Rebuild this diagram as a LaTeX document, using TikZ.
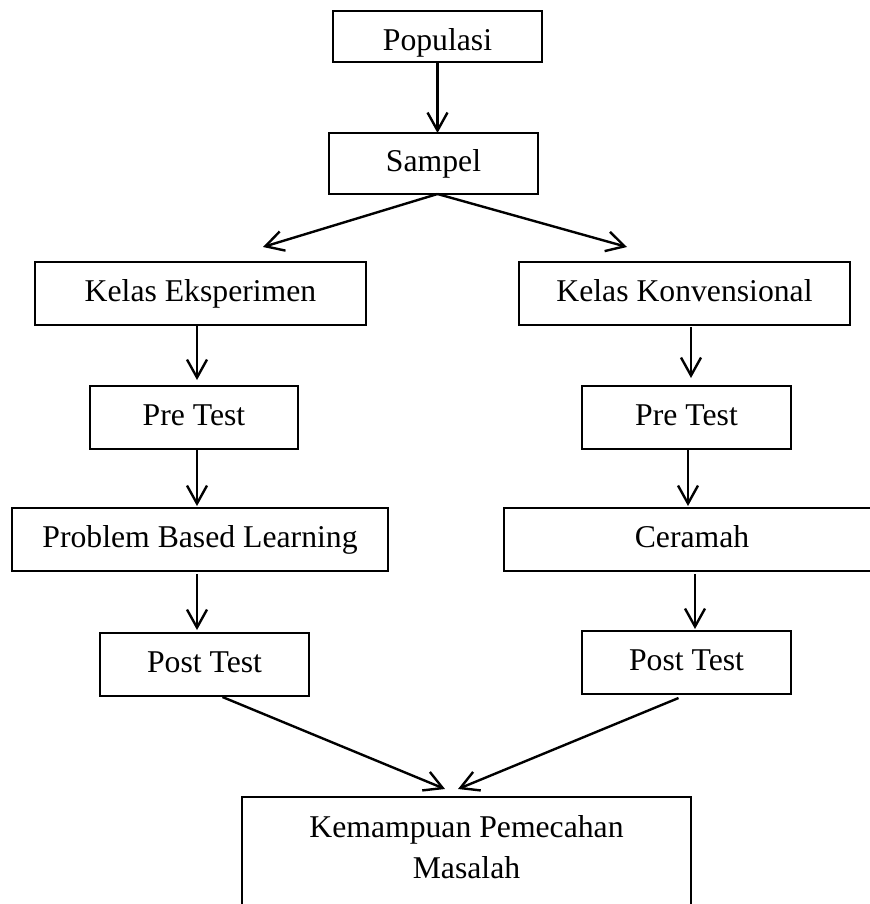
\documentclass[tikz,border=0pt]{standalone}
\usepackage{fontspec}
\setmainfont{Liberation Serif}
\usetikzlibrary{arrows.meta,positioning}

\begin{document}
\begin{tikzpicture}[x=0.5pt,y=-0.5pt]
\tikzstyle{box}=[rectangle,draw=black,line width=0.6pt,
inner sep=0pt,outer sep=0pt,minimum height=31.5pt,
text height=11pt,text depth=3pt,
font=\fontsize{15.85pt}{20.5pt}\selectfont]
\tikzstyle{arr}=[line width=1.2pt,-{Straight Barb[length=9pt,width=10pt]}]
\useasboundingbox (0,0) rectangle (869,904);

\node[box,minimum width=104.5pt,minimum height=25.5pt,text height=14.5pt,text depth=0pt] at (437.5,36.5) (pop) {Populasi};
\node[box,minimum width=104.5pt,minimum height=30.5pt,below of=pop,node distance=63.5pt,xshift=-2pt] (sam) {Sampel};

% kelas eksperimen
\node[box,minimum width=165.5pt] at (200.5,293.5) (ke) {Kelas Eksperimen};
\node[box,minimum width=104pt,below of=ke,node distance=62pt,xshift=-3.25pt] (pre1) {Pre Test};
\node[box,minimum width=188pt,below of=pre1,node distance=61pt,xshift=3pt] (pbl) {Problem Based Learning};
\node[box,minimum width=104.5pt,below of=pbl,node distance=62.5pt,xshift=2.25pt] (post1) {Post Test};

% kelas konvensional
\node[box,minimum width=165.5pt] at (684.5,293.5) (kk) {Kelas Konvensional};
\node[box,minimum width=104.5pt,below of=kk,node distance=62pt,xshift=1pt] (pre2) {Pre Test};
\node[box,minimum width=188pt,below of=pre2,node distance=61pt,xshift=2.75pt] (cer) {Ceramah};
\node[box,minimum width=104.5pt,below of=cer,node distance=61.5pt,xshift=-2.75pt] (post2) {Post Test};

\node[box,anchor=north,align=center,minimum width=224.5pt,text height=40.5pt,text depth=21pt] at (466.5,797) (kem) {Kemampuan Pemecahan\\Masalah};

\coordinate (tipL) at (263,247);
\coordinate (tipR) at (627,247);
\coordinate (tipA) at (445,789);
\coordinate (tipB) at (458,789);

\draw[arr] (pop.south) -- (pop.south |- sam.north);
\draw[arr] ([xshift=2pt]sam.south) -- (tipL);
\draw[arr] ([xshift=2pt]sam.south) -- (tipR);
\draw[arr,shorten >=3pt] ([xshift=-1.75pt]ke.south) -- ([xshift=-1.75pt]ke.south |- pre1.north);
\draw[arr,shorten >=1pt] ([xshift=1.5pt]pre1.south) -- ([xshift=1.5pt]pre1.south |- pbl.north);
\draw[arr,shorten <=1.5pt,shorten >=1.5pt] ([xshift=-1.5pt]pbl.south) -- ([xshift=-1.5pt]pbl.south |- post1.north);
\draw[arr,shorten <=1pt,shorten >=4pt] ([xshift=3.25pt]kk.south) -- ([xshift=3.25pt]kk.south |- pre2.north);
\draw[arr,shorten >=1pt] ([xshift=0.75pt]pre2.south) -- ([xshift=0.75pt]pre2.south |- cer.north);
\draw[arr,shorten <=1.5pt,shorten >=1pt] ([xshift=1.5pt]cer.south) -- ([xshift=1.5pt]cer.south |- post2.north);
\draw[arr] ([xshift=9pt,yshift=-0.5pt]post1.south) -- (tipA);
\draw[arr] ([xshift=-4pt,yshift=-2pt]post2.south) -- (tipB);

\end{tikzpicture}
\end{document}
